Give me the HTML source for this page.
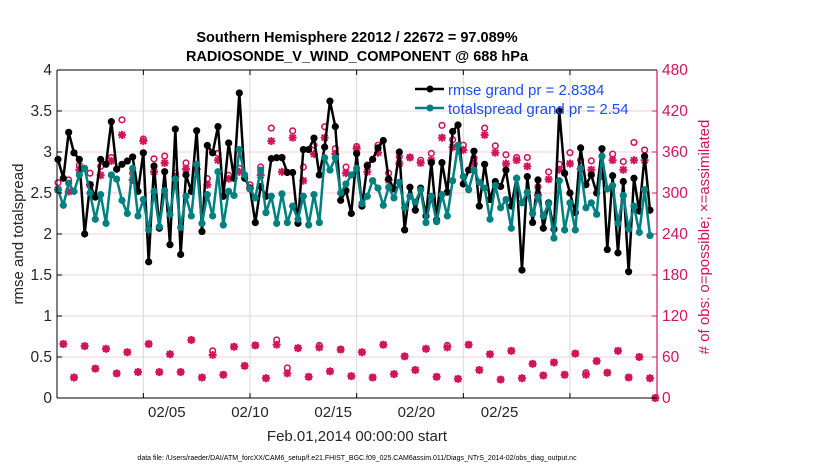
<!DOCTYPE html>
<html><head><meta charset="utf-8"><style>
body{margin:0;background:#fff;}
svg{display:block;font-family:"Liberation Sans",sans-serif;}
</style></head><body>
<svg id="chart" width="830" height="470" viewBox="0 0 830 470">
<text x="357" y="42" text-anchor="middle" font-size="14.5" font-weight="bold">Southern Hemisphere 22012 / 22672 = 97.089%</text>
<text x="357" y="61" text-anchor="middle" font-size="14.5" font-weight="bold">RADIOSONDE_V_WIND_COMPONENT @ 688 hPa</text>
<g id="grid"></g>
<g id="marks"></g>
<g id="axes"></g>
<text transform="translate(23,234) rotate(-90)" text-anchor="middle" font-size="15" fill="#262626">rmse and totalspread</text>
<text transform="translate(709,237) rotate(-90)" text-anchor="middle" font-size="15" fill="#d4145a"># of obs: o=possible; ×=assimilated</text>
<text x="357" y="441" text-anchor="middle" font-size="15" fill="#262626">Feb.01,2014 00:00:00 start</text>
<text x="357" y="460" text-anchor="middle" font-size="7">data file: /Users/raeder/DAI/ATM_forcXX/CAM6_setup/f.e21.FHIST_BGC.f09_025.CAM6assim.011/Diags_NTrS_2014-02/obs_diag_output.nc</text>
<g>
<line x1="415" y1="89" x2="444" y2="89" stroke="#000" stroke-width="2.5"/><circle cx="430" cy="89" r="3.5" fill="#000"/>
<text x="448" y="95" font-size="15" fill="#1a4dff">rmse grand pr = 2.8384</text>
<line x1="415" y1="108" x2="444" y2="108" stroke="#008080" stroke-width="2.5"/><circle cx="430" cy="108" r="3.5" fill="#008080"/>
<text x="448" y="114" font-size="15" fill="#1a4dff">totalspread grand pr = 2.54</text>
</g>
</svg>
<script>
const rmse=[2.91,2.68,3.24,2.99,2.91,2.00,2.60,2.45,2.91,2.85,3.37,2.79,2.85,2.89,2.94,2.52,2.99,1.66,2.83,2.07,2.76,1.87,3.28,1.75,2.72,2.52,3.26,2.03,3.08,
2.99,3.31,2.46,3.11,2.68,3.72,2.68,2.56,2.14,2.58,2.46,2.92,2.93,2.93,2.75,2.75,2.13,3.03,3.03,3.17,2.72,3.06,3.62,3.31,2.41,2.53,2.25,2.98,
2.34,2.83,2.91,3.05,3.14,2.67,2.55,3.00,2.05,2.57,2.29,2.56,2.22,2.87,2.17,2.87,2.51,3.25,3.33,2.61,2.78,3.01,2.34,2.85,2.42,2.64,2.58,2.78,
2.34,2.68,1.56,2.70,2.14,2.66,2.07,2.38,2.06,3.50,2.74,2.50,2.26,3.05,2.60,2.72,2.50,3.04,1.81,2.71,1.77,2.64,1.54,2.68,2.28,2.95,2.29];
const spread=[2.54,2.35,2.62,2.52,2.72,2.80,2.50,2.18,2.48,2.13,2.72,2.67,2.41,2.25,2.80,2.22,2.42,2.05,2.52,2.09,2.53,2.24,2.67,2.08,2.46,2.22,2.85,2.13,2.48,
2.22,2.76,2.11,2.52,2.47,3.03,2.72,2.55,2.44,2.78,2.26,2.46,2.13,2.49,2.14,2.34,2.18,2.46,2.11,2.48,2.14,2.93,2.78,2.93,2.50,2.61,2.72,2.80,
2.37,2.46,2.65,2.56,2.35,2.57,2.44,2.63,2.32,2.46,2.39,2.54,2.14,2.46,2.15,2.48,2.22,2.65,3.08,2.70,2.54,2.78,2.63,2.56,2.18,2.59,2.32,2.42,
2.07,2.68,2.38,2.51,2.25,2.45,2.22,2.37,1.95,2.65,2.05,2.38,2.05,2.80,2.32,2.38,2.24,2.95,2.55,2.59,2.13,2.47,2.06,2.34,2.02,2.54,1.98];
// obs counts: even time steps (00/12Z) and odd time steps (06/18Z)
const possibleEven=[315,319,341,329,339,352,407,329,379,350,354,329,344,342,321,358,326,336,312,338,395,352,391,338,370,397,365,338,368,341,370,329,353,352,348,358,399,378,370,351,395,369,356,352,352,309,331,342,359,348,347,326,357,346,374,363,0];
const assimEven=[305,302,334,312,326,347,385,319,376,331,344,324,335,335,312,348,321,331,307,326,376,331,381,318,357,381,357,329,365,331,359,319,343,352,344,348,381,367,363,343,385,359,343,348,339,297,320,334,343,335,334,325,348,334,348,348,0];
const possibleOdd=[79,30,76,43,72,36,67,38,79,38,64,38,85,30,69,34,75,47,77,29,85,44,73,31,77,39,71,32,67,30,78,35,61,41,72,31,77,28,78,41,64,27,69,29,50,33,52,34,65,37,54,37,69,30,60,29];
const assimOdd=[79,30,76,43,72,36,67,38,79,38,64,38,85,30,63,34,75,47,77,29,78,36,73,31,74,39,71,32,67,30,78,35,61,41,72,31,74,28,78,41,64,27,69,29,50,33,52,34,65,34,54,37,69,30,60,29];
const yTicks=[0,0.5,1,1.5,2,2.5,3,3.5,4];
const yTickLabels=["0","0.5","1","1.5","2","2.5","3","3.5","4"];
const rTicks=[0,60,120,180,240,300,360,420,480];
const xGridSteps=[16,36,56,76,96];
const xLabelSteps=[20.4,36,51.6,67.2,82.8];
const xLabels=["02/05","02/10","02/15","02/20","02/25"];

const NS="http://www.w3.org/2000/svg";
const L=57,R=657,T=70,B=398;
const X=i=>58+i*5.333;
const Y=v=>B-(v/4)*(B-T);
const YR=c=>B-(c/480)*(B-T);
function mk(tag,attrs,parent){const e=document.createElementNS(NS,tag);for(const k in attrs)e.setAttribute(k,attrs[k]);parent.appendChild(e);return e;}
const grid=document.getElementById('grid'),marks=document.getElementById('marks'),axes=document.getElementById('axes');

yTicks.forEach((v,k)=>{
 if(k>0&&k<yTicks.length-1){const g=mk('line',{x1:L,x2:R,y1:Y(v),y2:Y(v),stroke:'#f3cfe0','stroke-width':1},grid);
 
 }
 const t=mk('text',{x:L-5,y:Y(v)+5,'text-anchor':'end','font-size':15.5,fill:'#262626'},axes);t.textContent=yTickLabels[k];
 
 
 mk('line',{x1:L,x2:L+5,y1:Y(v),y2:Y(v),stroke:'#000'},axes);
});
rTicks.forEach(c=>{
 const t=mk('text',{x:R+5,y:YR(c)+5,'font-size':15.5,fill:'#d4145a'},axes);t.textContent=c;
 
 
 mk('line',{x1:R-5,x2:R,y1:YR(c),y2:YR(c),stroke:'#d4145a'},axes);
});
xGridSteps.forEach(s=>{
 const g=mk('line',{x1:X(s),x2:X(s),y1:T,y2:B,stroke:'#d8d8d8','stroke-width':1},grid);
 
 
 mk('line',{x1:X(s),x2:X(s),y1:B,y2:B-5,stroke:'#000'},axes);
 mk('line',{x1:X(s),x2:X(s),y1:T,y2:T+5,stroke:'#000'},axes);
});
xLabels.forEach((lab,k)=>{
 const t=mk('text',{x:X(xLabelSteps[k]),y:B+19,'text-anchor':'middle','font-size':15,fill:'#262626'},axes);t.textContent=lab;
 
 
});
mk('line',{x1:L,x2:R,y1:T,y2:T,stroke:'#000'},axes);
mk('line',{x1:L,x2:R,y1:B,y2:B,stroke:'#000'},axes);
mk('line',{x1:L,x2:L,y1:T,y2:B,stroke:'#000'},axes);
mk('line',{x1:R,x2:R,y1:T,y2:B,stroke:'#d4145a','stroke-width':1.2},axes);

function series(arr,color,name){
 const p=mk('polyline',{points:arr.map((v,i)=>X(i)+','+Y(v)).join(' '),fill:'none',stroke:color,'stroke-width':2.5,'stroke-linejoin':'round'},marks);
 
 
 arr.forEach((v,i)=>{const c=mk('circle',{cx:X(i),cy:Y(v),r:3.6,fill:color},marks);
 
 });
}
const pink='#d4145a';
function possible(i,c){const e=mk('circle',{cx:X(i),cy:YR(c),r:2.8,fill:'none',stroke:pink,'stroke-width':1.6},marks);
 
 }
function assim(i,c){const g=mk('g',{transform:'translate('+X(i)+','+YR(c)+')',stroke:pink,'stroke-width':2},marks);
 
 
 mk('line',{x1:-4,x2:4,y1:0,y2:0},g);mk('line',{x1:0,x2:0,y1:-4,y2:4},g);
 mk('line',{x1:-3,x2:3,y1:-3,y2:3},g);mk('line',{x1:-3,x2:3,y1:3,y2:-3},g);}
possibleEven.forEach((c,k)=>possible(2*k,c));
possibleOdd.forEach((c,k)=>possible(2*k+1,c));
assimEven.forEach((c,k)=>assim(2*k,c));
assimOdd.forEach((c,k)=>assim(2*k+1,c));
series(rmse,'#000','rmse');
series(spread,'#008080','totalspread');
</script>
</body></html>
